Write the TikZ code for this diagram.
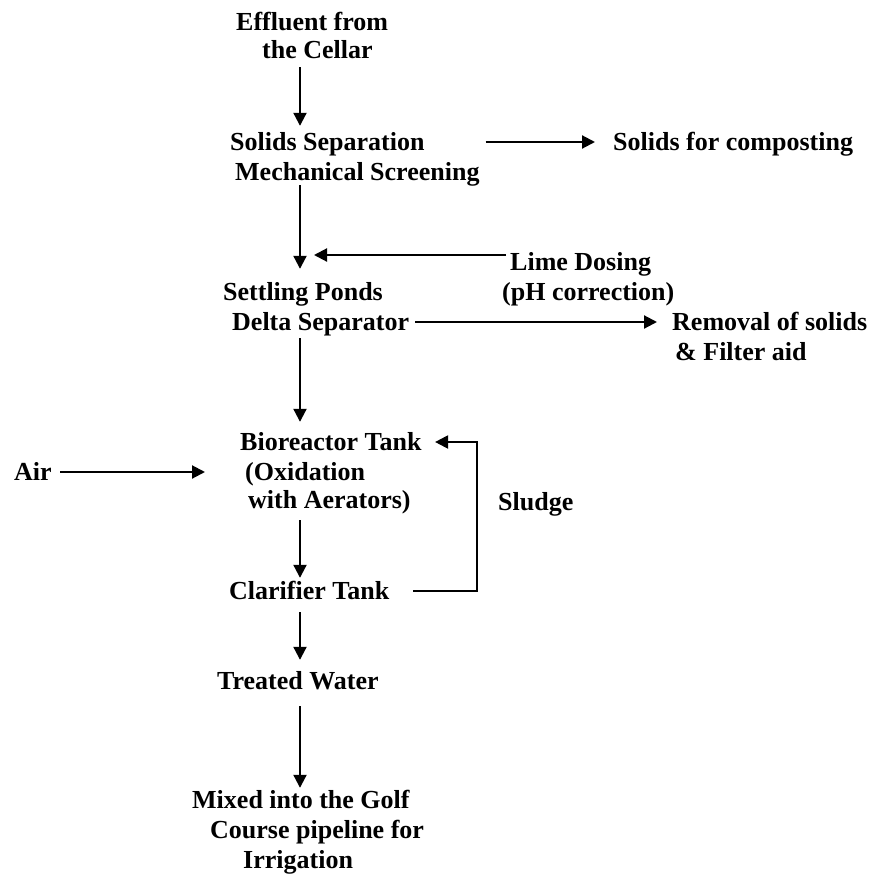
\documentclass[tikz,border=0pt]{standalone}
\usepackage{fontspec}
\setmainfont{Liberation Serif}
\usepackage{tikz}
\usetikzlibrary{arrows.meta}

\tikzset{
  txt/.style={font=\fontsize{26}{29}\selectfont\bfseries, inner sep=0pt, text height=19pt, text depth=2pt, anchor=west},
  flow/.style={line width=2.1pt, -{Triangle[length=13pt,width=13pt]}}
}

\begin{document}
\begin{tikzpicture}[x=1pt,y=-1pt]
\useasboundingbox (0,0) rectangle (872,876);
\coordinate (spine) at (300,0);
\coordinate (limetip) at (314,255);
\coordinate (bend) at (477,0);

\node[txt] (eff1) at (236,22) {Effluent from};
\node[txt] (eff2) at (262,50) {the Cellar};
\node[txt] (sep1) at (230,142) {Solids Separation};
\node[txt] (sep2) at (235,172) {Mechanical Screening};
\node[txt] (comp) at (613,142) {Solids for composting};
\node[txt] (lime1) at (510,262) {Lime Dosing};
\node[txt] (lime2) at (502,292) {(pH correction)};
\node[txt] (set1) at (223,292) {Settling Ponds};
\node[txt] (set2) at (232,322) {Delta Separator};
\node[txt] (rem1) at (672,322) {Removal of solids};
\node[txt] (rem2) at (675,352) {\& Filter aid};
\node[txt] (bio1) at (240,442) {Bioreactor Tank};
\node[txt] (bio2) at (245,472) {(Oxidation};
\node[txt] (bio3) at (248,500) {with Aerators)};
\node[txt] (air) at (14,472) {Air};
\node[txt] (sludge) at (498,502) {Sludge};
\node[txt] (clar) at (229,591) {Clarifier Tank};
\node[txt] (treat) at (217,681) {Treated Water};
\node[txt] (mix1) at (192,800) {Mixed into the Golf};
\node[txt] (mix2) at (210,830) {Course pipeline for};
\node[txt] (mix3) at (243,860) {Irrigation};

\draw[flow, shorten <=6.5pt, shorten >=5.5pt] (eff2.south -| spine) -- (sep1.north -| spine);
\draw[flow, shorten <=2.5pt, shorten >=12.5pt] (sep2.south -| spine) -- (set1.north -| spine);
\draw[flow, shorten <=5.5pt, shorten >=9.5pt] (set2.south -| spine) -- (bio1.north -| spine);
\draw[flow, shorten <=9.5pt, shorten >=2.5pt] (bio3.south -| spine) -- (clar.north -| spine);
\draw[flow, shorten <=10.5pt, shorten >=10.5pt] (clar.south -| spine) -- (treat.north -| spine);
\draw[flow, shorten <=14.5pt, shorten >=1.5pt] (treat.south -| spine) -- (mix1.north -| spine);

\draw[flow, shorten <=6pt, shorten >=18pt] (sep2.east |- comp.west) -- (comp.west);
\draw[flow, shorten <=-4pt] (lime2.west |- limetip) -- (limetip);
\draw[flow, shorten <=6pt, shorten >=15pt] (set2.east) -- (rem1.west);
\draw[flow, shorten <=8.5pt, shorten >=40pt] (air.east) -- (bio2.west);
\draw[flow, shorten >=13.4pt] ([xshift=23.5pt]clar.east) -- (clar.east -| bend) |- (bio1.east);
\end{tikzpicture}
\end{document}
